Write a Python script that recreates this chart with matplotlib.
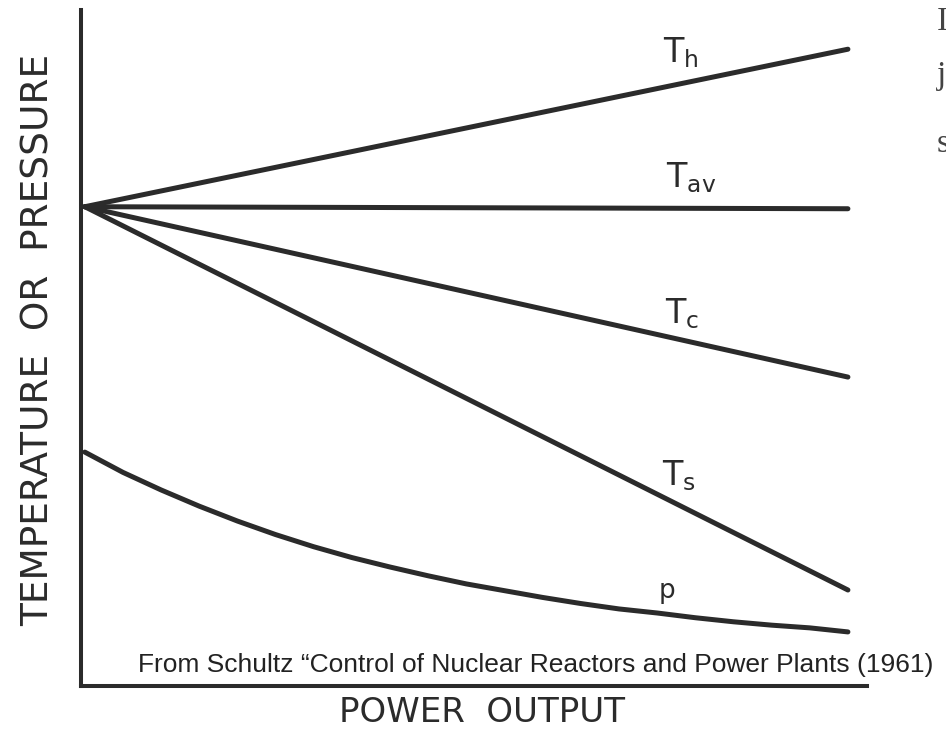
#!/usr/bin/env python3
import matplotlib

matplotlib.use("Agg")
import matplotlib.pyplot as plt


INK = "#2b2b2b"

# power output, % of full power (straight temperature lines only need the ends)
power_lin = [0, 100]
t_hot = [70.9, 94.2]
t_avg = [70.9, 70.6]
t_cold = [70.9, 45.7]
t_steam = [70.9, 14.2]

# pressure curve every 5 % of power
power_p = [0, 5, 10, 15, 20, 25, 30, 35, 40, 45, 50,
           55, 60, 65, 70, 75, 80, 85, 90, 95, 100]
pressure = [34.6, 31.6, 29.0, 26.6, 24.4, 22.4, 20.6, 19.0, 17.6, 16.3, 15.1,
            14.1, 13.1, 12.2, 11.4, 10.8, 10.1, 9.5, 9.0, 8.6, 8.0]

curve_labels = [
    (r"$\mathregular{T_h}$", 75.8, 92.3, 24),
    (r"$\mathregular{T_{av}}$", 76.1, 73.7, 24),
    (r"$\mathregular{T_c}$", 76.0, 53.7, 24),
    (r"$\mathregular{T_s}$", 75.6, 29.7, 24),
    ("p", 75.2, 13.0, 19),
]

CAPTION = "From Schultz \u201cControl of Nuclear Reactors and Power Plants (1961)"


def main() -> None:
    W, H = 946, 744
    fig = plt.figure(figsize=(W / 100, H / 100), dpi=100)
    fig.patch.set_facecolor("white")

    # axes box in pixels: left spine x=81, bottom spine y=686, top y=10, right x=867
    ax = fig.add_axes([81 / W, (H - 686) / H, (867 - 81) / W, (686 - 10) / H])
    ax.set_xlim(-0.5, 102.5)
    ax.set_ylim(0, 100)

    lw = 3.6
    for ys in (t_hot, t_avg, t_cold, t_steam):
        ax.plot(power_lin, ys, color=INK, linewidth=lw, solid_capstyle="round")
    ax.plot(power_p, pressure, color=INK, linewidth=lw, solid_capstyle="round", solid_joinstyle="round")

    for text, x, y, size in curve_labels:
        ax.text(x, y, text, fontsize=size, color=INK, ha="left", va="baseline", family="DejaVu Sans")

    for side in ("top", "right"):
        ax.spines[side].set_visible(False)
    for side in ("left", "bottom"):
        ax.spines[side].set_linewidth(2.9)
        ax.spines[side].set_color(INK)
    ax.set_xticks([])
    ax.set_yticks([])

    fig.text(39 / W, (H - 340) / H, "TEMPERATURE  OR  PRESSURE", rotation=90,
             ha="center", va="center", fontsize=27, color=INK, family="DejaVu Sans")
    fig.text(482 / W, (H - 713) / H, "POWER  OUTPUT", ha="center", va="center",
             fontsize=24.5, color=INK, family="DejaVu Sans")
    fig.text(138 / W, (H - 672) / H, CAPTION, ha="left", va="baseline",
             fontsize=19, color="#222222", family="Liberation Sans")

    # bits of the neighbouring page that show at the right edge of the scan
    for ch, y in (("I", 30), ("j", 84), ("s", 152)):
        fig.text(937 / W, (H - y) / H, ch, ha="left", va="baseline",
                 fontsize=24, color="#444444", family="Liberation Serif")

    fig.savefig("out.png", dpi=100)
    plt.close(fig)


if __name__ == "__main__":
    main()
